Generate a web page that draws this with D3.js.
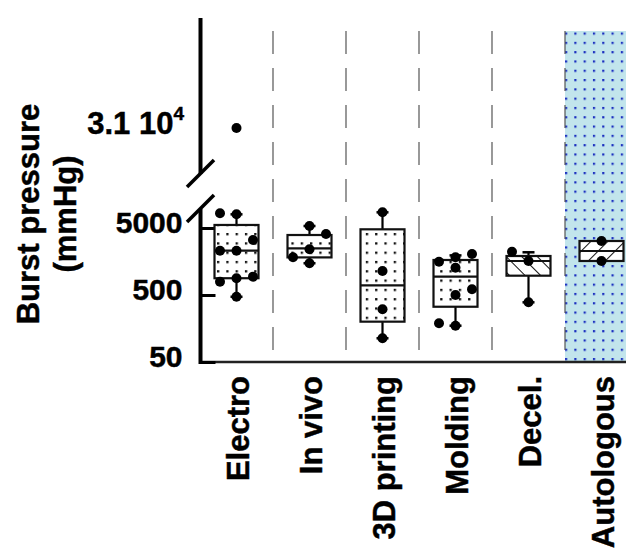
<!DOCTYPE html>
<html lang="en">
<head>
<meta charset="UTF-8">
<title>Burst pressure</title>
<style>
body {
    margin: 0;
    background-color: #fff;
}
svg {
    display: block;
    font-family: "Liberation Sans", Arial, sans-serif;
    font-weight: bold;
}
svg text {
    stroke: #000;
    stroke-width: 0.45px;
}
</style>
</head>
<body>
<div id="plot"></div>
<script src="https://cdn.jsdelivr.net/npm/d3@7/dist/d3.min.js"></script>
<script>

const w = 626,
      h = 553;

// categories
const groups = ["Electro", "In vivo", "3D printing", "Molding", "Decel.", "Autologous"];

// box statistics per group (mmHg)
const lowWhisker  = [470, 1490, 113, 174, 389, null];
const q1          = [890, 1820, 200, 334, 971, 1609];
const median      = [2290, 2490, 698, 938, 1609, 2270];
const q3          = [5550, 3930, 4780, 1665, 1910, 3198];
const highWhisker = [8000, 5355, 8575, 1950, 2170, null];

// individual samples (mmHg) and the side each dot sits on (-1 left, 0 middle, 1 right)
const electroPts   = [8300, 8000, 3310, 2290, 2290, 940, 890, 790, 470, 31000];
const electroSide  = [-1, 0, 1, -1, 0, 1, 0, -1, 0, 0];
const invivoPts    = [5355, 4066, 2405, 1827, 1487];
const invivoSide   = [0, 1, 0, -1, 0];
const printingPts  = [8575, 1140, 306, 113];
const printingSide = [0, 0, 0, 0];
const moldingPts   = [2047, 1827, 1570, 1278, 608, 500, 189, 174];
const moldingSide  = [1, 0, -1, 0, 1, 0, -1, 0];
const decelPts     = [2214, 1609, 389];
const decelSide    = [-1, 0, 0];
const autoPts      = [3198, 1609];
const autoSide     = [0, 0];

// y tick labels
const lowTicks = [50, 500, 5000];
const highLabel = 31000;

const points = [electroPts, invivoPts, printingPts, moldingPts, decelPts, autoPts];
const sides = [electroSide, invivoSide, printingSide, moldingSide, decelSide, autoSide];

// set up svg
const svg = d3.select("#plot").append("svg")
    .attr("width", w)
    .attr("height", h);

const defs = svg.append("defs");

// dotted fill for boxes
const dots = defs.append("pattern")
    .attr("id", "dots")
    .attr("patternUnits", "userSpaceOnUse")
    .attr("x", 217).attr("y", 233)
    .attr("width", 9.3).attr("height", 9.3);
dots.append("rect").attr("width", 9.3).attr("height", 9.3).attr("fill", "#fff");
dots.append("rect").attr("width", 2.3).attr("height", 2.3).attr("fill", "#111");

// blue dotted background for the autologous column
const blue = defs.append("pattern")
    .attr("id", "bluedots")
    .attr("patternUnits", "userSpaceOnUse")
    .attr("x", 565).attr("y", 32.5)
    .attr("width", 9.3).attr("height", 9.3);
blue.append("rect").attr("width", 9.3).attr("height", 9.3).attr("fill", "#c2e5ec");
blue.append("rect").attr("width", 2.2).attr("height", 2.2).attr("fill", "#1b2fc0");

// hatches
function hatch(id, angle, gap) {
    const p = defs.append("pattern")
        .attr("id", id)
        .attr("patternUnits", "userSpaceOnUse")
        .attr("width", gap).attr("height", gap)
        .attr("patternTransform", `rotate(${angle})`);
    p.append("rect").attr("width", gap).attr("height", gap).attr("fill", "#fff");
    p.append("line")
        .attr("x1", 0).attr("y1", 0).attr("x2", 0).attr("y2", gap)
        .attr("stroke", "#111").attr("stroke-width", 2);
}
hatch("hatchBack", -45, 11);
hatch("hatchFwd", 45, 12);

const fills = ["url(#dots)", "url(#dots)", "url(#dots)", "url(#dots)", "url(#hatchBack)", "url(#hatchFwd)"];

// scales
const x = d3.scaleBand()
    .domain(groups)
    .range([200, 638]);

const yLow = d3.scaleLog()
    .domain([50, 5000])
    .range([362, 228]);

const yHigh = d3.scaleLinear()
    .domain([25000, 46000])
    .range([172, 18]);

const y = (v) => v > 20000 ? yHigh(v) : yLow(v);

const boxW = 44,
      jitter = 16.5;

// shaded autologous column
svg.append("rect")
    .attr("x", x("Autologous"))
    .attr("y", 31)
    .attr("width", x.bandwidth())
    .attr("height", 362 - 31)
    .attr("fill", "url(#bluedots)");

// dashed separators
svg.selectAll(".sep")
    .data(groups.slice(1))
    .join("line")
    .attr("class", "sep")
    .attr("x1", (d) => x(d)).attr("x2", (d) => x(d))
    .attr("y1", 31).attr("y2", 362)
    .attr("stroke", "#555")
    .attr("stroke-width", 1.2)
    .attr("stroke-dasharray", "23,14");

// x axis line
svg.append("line")
    .attr("x1", 200).attr("x2", 638)
    .attr("y1", 362).attr("y2", 362)
    .attr("stroke", "#222")
    .attr("stroke-width", 2.5);

// lower y axis
const axisLow = svg.append("g")
    .attr("transform", "translate(200.5,0)")
    .call(d3.axisLeft(yLow)
        .tickValues(lowTicks)
        .tickSize(-15)
        .tickPadding(18)
        .tickFormat(d3.format("d")));
axisLow.select(".domain").remove();
axisLow.selectAll(".tick line").attr("stroke", "#000").attr("stroke-width", 3);
axisLow.selectAll(".tick text")
    .attr("font-size", 30)
    .attr("font-family", "Liberation Sans, Arial, sans-serif")
    .attr("font-weight", "bold")
    .attr("fill", "#000")
    .attr("dy", "0.15em");

// axis segments and break marks
svg.append("line")
    .attr("x1", 200.5).attr("x2", 200.5)
    .attr("y1", 209).attr("y2", 364)
    .attr("stroke", "#000").attr("stroke-width", 4);
svg.append("line")
    .attr("x1", 200.5).attr("x2", 200.5)
    .attr("y1", 18).attr("y2", 174)
    .attr("stroke", "#000").attr("stroke-width", 4);
svg.selectAll(".brk")
    .data([174, 209])
    .join("line")
    .attr("class", "brk")
    .attr("x1", 187).attr("x2", 214)
    .attr("y1", (d) => d + 13).attr("y2", (d) => d - 14)
    .attr("stroke", "#000").attr("stroke-width", 3.5);

// upper label 3.1 10^4
const hl = svg.append("text")
    .attr("x", 184)
    .attr("y", yHigh(highLabel))
    .attr("dy", "0.2em")
    .attr("text-anchor", "end")
    .attr("font-size", 31);
hl.append("tspan").text("3.1 10");
hl.append("tspan").attr("font-size", 19).attr("dy", "-0.75em").text("4");

// y title
const title = svg.append("text")
    .attr("transform", "translate(0,214) rotate(-90)")
    .attr("text-anchor", "middle")
    .attr("font-size", 31);
title.append("tspan").attr("x", 0).attr("y", 39).text("Burst pressure");
title.append("tspan").attr("x", 0).attr("y", 76).text("(mmHg)");

// x labels
svg.selectAll(".xlab")
    .data(groups)
    .join("text")
    .attr("class", "xlab")
    .attr("transform", (d) => `translate(${x(d) + x.bandwidth() / 2 + 12},376) rotate(-90)`)
    .attr("text-anchor", "end")
    .attr("font-size", 31)
    .text((d) => d);

// boxes
groups.forEach((g, i) => {
    const cx = x(g) + x.bandwidth() / 2;
    const grp = svg.append("g");

    if (lowWhisker[i] !== null) {
        grp.append("line")
            .attr("x1", cx).attr("x2", cx)
            .attr("y1", y(lowWhisker[i])).attr("y2", y(highWhisker[i]))
            .attr("stroke", "#000").attr("stroke-width", 2.2);
        grp.selectAll(".cap")
            .data([lowWhisker[i], highWhisker[i]])
            .join("line")
            .attr("x1", cx - 6).attr("x2", cx + 6)
            .attr("y1", (d) => y(d)).attr("y2", (d) => y(d))
            .attr("stroke", "#000").attr("stroke-width", 2.5);
    }

    grp.append("rect")
        .attr("x", cx - boxW / 2)
        .attr("y", y(q3[i]))
        .attr("width", boxW)
        .attr("height", y(q1[i]) - y(q3[i]))
        .attr("fill", fills[i])
        .attr("stroke", "#111")
        .attr("stroke-width", 2.2);

    grp.append("line")
        .attr("x1", cx - boxW / 2).attr("x2", cx + boxW / 2)
        .attr("y1", y(median[i])).attr("y2", y(median[i]))
        .attr("stroke", "#111").attr("stroke-width", 2.2);

    grp.selectAll(".pt")
        .data(points[i])
        .join("circle")
        .attr("class", "pt")
        .attr("cx", (d, j) => cx + sides[i][j] * jitter)
        .attr("cy", (d) => y(d))
        .attr("r", 5)
        .attr("fill", "#000");
});
</script>
</body>
</html>
